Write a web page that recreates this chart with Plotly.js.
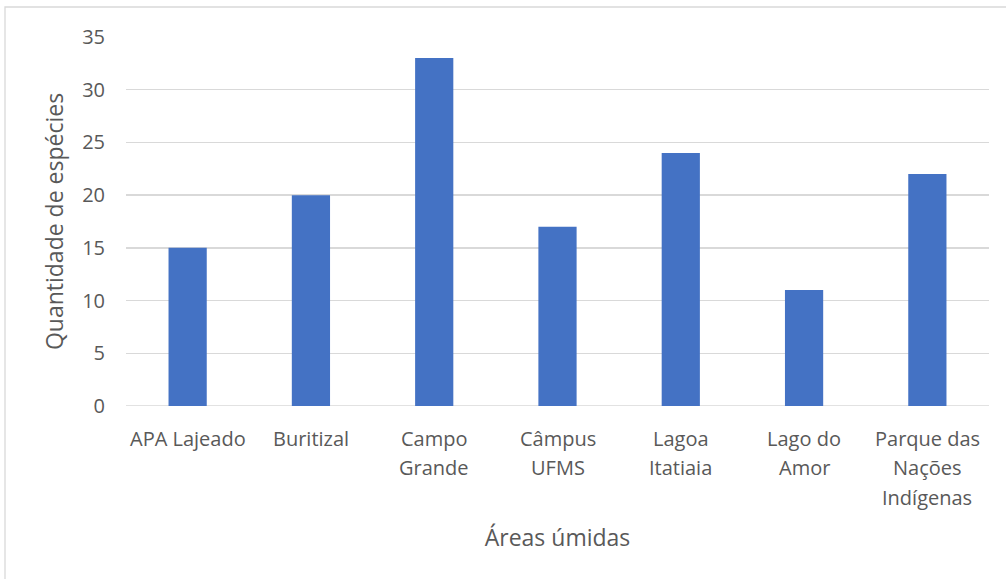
<!DOCTYPE html>
<html><head><meta charset="utf-8">
<script src="https://cdn.plot.ly/plotly-3.0.1.min.js"></script>
<style>html,body{margin:0;padding:0;background:#fff}#chart{width:1006px;height:579px}</style>
</head><body><div id="chart"></div>
<script>
const categories = ["APA Lajeado","Buritizal","Campo<br>Grande","Câmpus<br>UFMS","Lagoa<br>Itatiaia","Lago do<br>Amor","Parque das<br>Nações<br>Indígenas"];
const especies = [15, 20, 33, 17, 24, 11, 22];
const yTicks = [0, 5, 10, 15, 20, 25, 30, 35];

const W = 1006, H = 579;
const M = {l: 126, r: 17, t: 37, b: 173};
const pw = W - M.l - M.r, ph = H - M.t - M.b;
const px = v => (v - M.l) / pw;
const py = v => 1 - (v - M.t) / ph;
const font = 'Open Sans, Noto Sans, sans-serif';

// category labels drawn line by line at the category positions (Excel-like line spacing)
const labelAnnotations = [];
categories.forEach(cat => {
  cat.split('<br>').forEach((line, j) => {
    labelAnnotations.push({x: cat, xref: 'x', y: 0, yref: 'y', text: line, showarrow: false,
      yanchor: 'middle', xanchor: 'center', yshift: -(32 + 29.5 * j),
      font: {size: 20, color: '#595959', family: font}});
  });
});

Plotly.newPlot('chart', [{
  type: 'bar', x: categories, y: especies,
  marker: {color: '#4472C4'}, hoverinfo: 'x+y'
}], {
  width: W, height: H,
  margin: M,
  paper_bgcolor: '#fff', plot_bgcolor: '#fff',
  bargap: 0.69,
  font: {family: font, color: '#595959', size: 20},
  xaxis: {type: 'category', showgrid: false, zeroline: false, showline: false,
    ticks: '', showticklabels: false,
    title: {text: 'Áreas úmidas', font: {size: 23, color: '#595959'}, standoff: 123}},
  yaxis: {range: [0, 35], tickvals: yTicks, showgrid: true, gridcolor: '#d9d9d9', gridwidth: 1.3,
    zeroline: false, showline: false, ticks: '', ticklabelstandoff: 20,
    tickfont: {size: 20, color: '#595959'},
    title: {text: 'Quantidade de espécies', font: {size: 23, color: '#595959'}, standoff: 12}},
  annotations: labelAnnotations,
  shapes: [{type: 'rect', xref: 'paper', yref: 'paper', x0: px(5), x1: px(1010), y0: py(7), y1: py(585),
    line: {color: '#d9d9d9', width: 1.3}, layer: 'below'},
    {type: 'line', xref: 'paper', yref: 'y', x0: 0, x1: 1, y0: 0, y1: 0, line: {color: '#d9d9d9', width: 1.3}, layer: 'below'}],
  showlegend: false
}, {displayModeBar: false, staticPlot: true});
</script></body></html>
